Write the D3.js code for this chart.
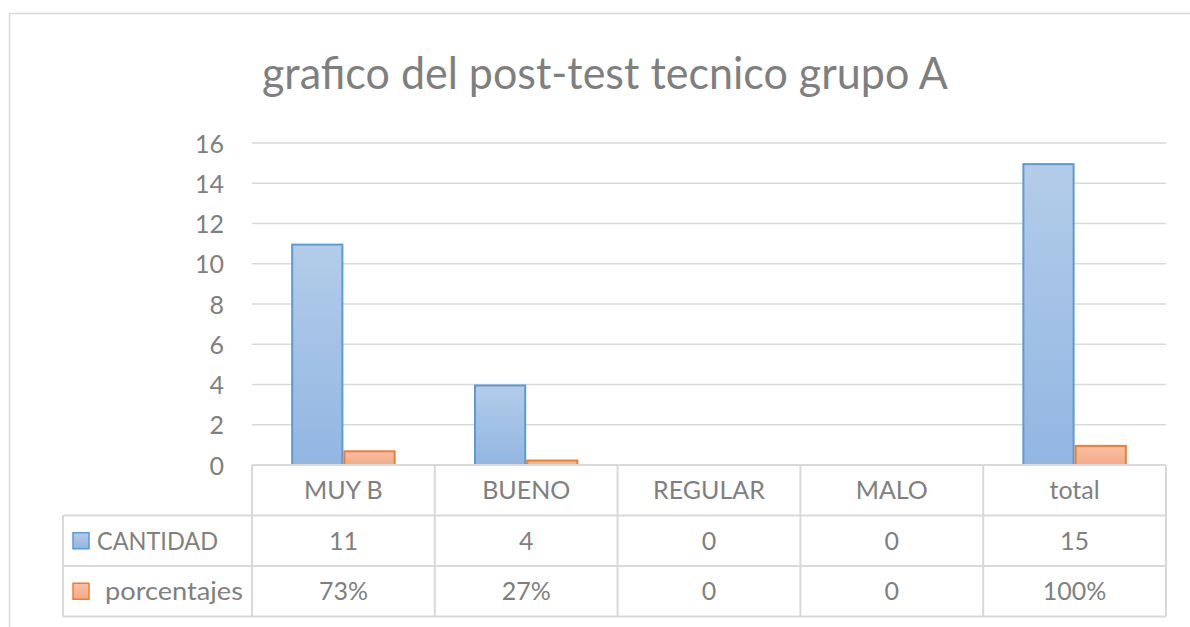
<!DOCTYPE html>
<html>
<head>
<meta charset="utf-8">
<script src="https://cdn.jsdelivr.net/npm/d3@7"></script>
<style>
  html, body { margin: 0; padding: 0; background: #fff; }
  svg { display: block; }
  text { font-family: Lato, "Open Sans", sans-serif; fill: #7f7f7f; }
</style>
</head>
<body>
<svg id="chart" width="1190" height="627"></svg>
<script>
const title = "grafico del post-test tecnico grupo A";
const categories = ["MUY B", "BUENO", "REGULAR", "MALO", "total"];
const seriesNames = ["CANTIDAD", "porcentajes"];
const cantidad = [11, 4, 0, 0, 15];
const porcentajes = [0.73, 0.27, 0, 0, 1];
const cantidadLabels = ["11", "4", "0", "0", "15"];
const porcentajesLabels = ["73%", "27%", "0", "0", "100%"];
const yTicks = [0, 2, 4, 6, 8, 10, 12, 14, 16];

const svg = d3.select("#chart");
const W = 1190, H = 627;

// Layout
const plotLeft = 252, plotRight = 1166, plotTop = 143, plotBottom = 465;
const rowH = 50.5;
const tableLeft = 63;

// Outer chart frame
svg.append("rect")
  .attr("x", 9.5).attr("y", 13.5)
  .attr("width", W + 20).attr("height", H + 20)
  .attr("fill", "#fff").attr("stroke", "#d9d9d9").attr("stroke-width", 1.5);

// Gradients
const defs = svg.append("defs");
function grad(id, top, bottom) {
  const g = defs.append("linearGradient").attr("id", id)
    .attr("x1", 0).attr("y1", 0).attr("x2", 0).attr("y2", 1);
  g.append("stop").attr("offset", "0%").attr("stop-color", top);
  g.append("stop").attr("offset", "100%").attr("stop-color", bottom);
}
grad("gBlue", "#b3cce9", "#92b6e2");
grad("gOrange", "#f8bfa5", "#f4aa87");

const colors = [
  { fill: "url(#gBlue)", stroke: "#5b9bd5" },
  { fill: "url(#gOrange)", stroke: "#ed7d31" }
];

// Scales
const y = d3.scaleLinear().domain([0, 16]).range([plotBottom, plotTop]);
const x0 = d3.scaleBand().domain(categories).range([plotLeft, plotRight]).paddingInner(0).paddingOuter(0);
// gap width 150%: bars occupy 2/3.5 of band
const groupFrac = 2 / 3.5;
const x1 = d3.scaleBand().domain(seriesNames)
  .range([0, x0.bandwidth() * groupFrac]);
const groupOffset = x0.bandwidth() * (1 - groupFrac) / 2;

// Gridlines
const yAxis = d3.axisLeft(y).tickValues(yTicks).tickSize(0).tickPadding(0).tickFormat(d3.format("d"));
const gridG = svg.append("g");
gridG.selectAll("line").data(yTicks.filter(d => d > 0)).join("line")
  .attr("x1", plotLeft).attr("x2", plotRight)
  .attr("y1", d => y(d)).attr("y2", d => y(d))
  .attr("stroke", "#d9d9d9").attr("stroke-width", 1.5);

// Y axis labels
const ax = svg.append("g").attr("transform", `translate(224,0)`).call(yAxis);
ax.select(".domain").remove();
ax.selectAll("text")
  .style("font-size", "25px")
  .style("font-family", "Lato, sans-serif")
  .attr("fill", "#7f7f7f")
  .attr("dy", "0.36em");

// Bars
const seriesData = [cantidad, porcentajes];
seriesData.forEach((vals, si) => {
  svg.append("g").selectAll("rect").data(vals.map((v, i) => ({ v, c: categories[i] })))
    .join("rect")
    .filter(d => d.v > 0)
    .attr("x", d => x0(d.c) + groupOffset + x1(seriesNames[si]) + 1)
    .attr("width", x1.bandwidth() - 2)
    .attr("y", d => y(d.v) + 1)
    .attr("height", d => y(0) - y(d.v) - 1)
    .attr("fill", colors[si].fill)
    .attr("stroke", colors[si].stroke)
    .attr("stroke-width", 2);
});

// Data table
const tbl = svg.append("g");
const lineColor = "#d9d9d9";
const rowsY = [plotBottom, plotBottom + rowH, plotBottom + 2 * rowH, plotBottom + 3 * rowH];
tbl.append("line").attr("x1", plotLeft).attr("x2", plotRight)
  .attr("y1", rowsY[0]).attr("y2", rowsY[0]).attr("stroke", lineColor).attr("stroke-width", 2);
[1, 2, 3].forEach(r => {
  tbl.append("line").attr("x1", tableLeft).attr("x2", plotRight)
    .attr("y1", rowsY[r]).attr("y2", rowsY[r]).attr("stroke", lineColor).attr("stroke-width", 2);
});
tbl.append("line").attr("x1", tableLeft).attr("x2", tableLeft)
  .attr("y1", rowsY[1]).attr("y2", rowsY[3]).attr("stroke", lineColor).attr("stroke-width", 2);
categories.forEach(c => {
  tbl.append("line").attr("x1", x0(c)).attr("x2", x0(c))
    .attr("y1", rowsY[0]).attr("y2", rowsY[3]).attr("stroke", lineColor).attr("stroke-width", 2);
});
tbl.append("line").attr("x1", plotRight).attr("x2", plotRight)
  .attr("y1", rowsY[0]).attr("y2", rowsY[3]).attr("stroke", lineColor).attr("stroke-width", 2);

// Header labels
tbl.selectAll("text.cat").data(categories).join("text")
  .attr("class", "cat")
  .attr("x", d => x0(d) + x0.bandwidth() / 2)
  .attr("y", (rowsY[0] + rowsY[1]) / 2)
  .attr("dy", "0.36em")
  .attr("text-anchor", "middle")
  .style("font-size", "25px")
  .text(d => d);

const rowLabels = [cantidadLabels, porcentajesLabels];
const legendX = [97, 105];
const legendLen = [121, 138];
rowLabels.forEach((labels, ri) => {
  tbl.append("g").selectAll("text").data(labels).join("text")
    .attr("x", (d, i) => x0(categories[i]) + x0.bandwidth() / 2)
    .attr("y", (rowsY[ri + 1] + rowsY[ri + 2]) / 2)
    .attr("dy", "0.36em")
    .attr("text-anchor", "middle")
    .style("font-size", "25px")
    .text(d => d);
  const cy = (rowsY[ri + 1] + rowsY[ri + 2]) / 2;
  tbl.append("rect")
    .attr("x", 73).attr("y", cy - 8).attr("width", 16).attr("height", 16)
    .attr("fill", colors[ri].fill).attr("stroke", colors[ri].stroke).attr("stroke-width", 1.5);
  tbl.append("text")
    .attr("x", legendX[ri])
    .attr("y", cy)
    .attr("dy", "0.36em")
    .attr("textLength", legendLen[ri])
    .attr("lengthAdjust", "spacingAndGlyphs")
    .style("font-size", "25px")
    .text(seriesNames[ri]);
});

// Title
svg.append("text")
  .attr("x", 605).attr("y", 89)
  .attr("text-anchor", "middle")
  .attr("textLength", 686)
  .attr("lengthAdjust", "spacingAndGlyphs")
  .style("font-size", "44px")
  .text(title);
</script>
</body>
</html>
